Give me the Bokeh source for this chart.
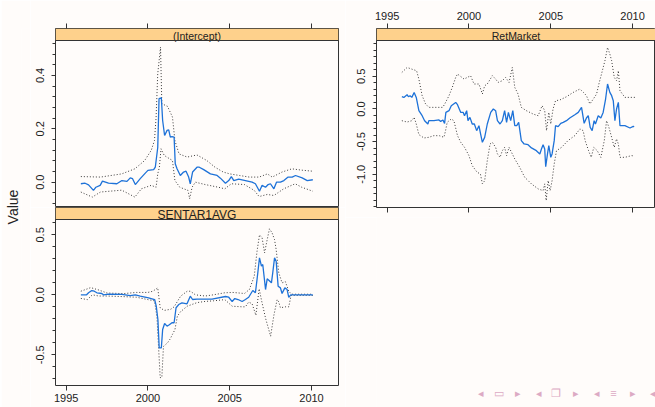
from bokeh.plotting import figure
from bokeh.models import Range1d, LinearAxis, FixedTicker, BoxAnnotation, Label, Span, Spacer
from bokeh.layouts import row, column
from bokeh.embed import file_html
from bokeh.resources import INLINE

BG = "#fffcfa"
STRIP = "#fed18c"
BLUE = "#1e72d8"
FRAME = "#333333"
DOTS = "#3a3a3a"
FONT = "Liberation Sans"

# ---------------- data ----------------
x_ticks = [1995, 2000, 2005, 2010]
x_tick_labels = ["1995", "2000", "2005", "2010"]

strip_labels = ["(Intercept)", "SENTAR1AVG", "RetMarket"]
y_label = "Value"

# (Intercept)
int_fit_x = [1995.9, 1996.16, 1996.37, 1996.67, 1996.82, 1997.08, 1997.22, 1997.59, 1998.1, 1998.41,
             1998.72, 1998.92, 1999.06, 1999.23, 1999.53, 1999.84, 2000.0, 2000.35, 2000.45, 2000.6,
             2000.68, 2000.82, 2000.9, 2001.02, 2001.17, 2001.27, 2001.37, 2001.47, 2001.6, 2001.67,
             2001.78, 2001.98, 2002.18, 2002.33, 2002.49, 2002.59, 2002.73, 2003.0, 2003.14, 2003.41,
             2003.82, 2004.23, 2004.43, 2004.74, 2004.94, 2005.1, 2005.25, 2005.55, 2005.96, 2006.37,
             2006.57, 2006.82, 2006.98, 2007.19, 2007.35, 2007.49, 2007.7, 2007.86, 2008.1, 2008.31,
             2008.57, 2008.82, 2009.02, 2009.43, 2009.74, 2010.08]
int_fit_y = [-0.006, -0.004, -0.01, -0.031, -0.019, -0.012, 0.004, -0.004, -0.006, 0.006,
             0.003, 0.016, 0.013, -0.009, 0.013, 0.034, 0.044, 0.047, 0.056, 0.13,
             0.313, 0.316, 0.231, 0.175, 0.194, 0.196, 0.169, 0.171, 0.169, 0.069,
             0.05, 0.025, 0.038, 0.041, 0.019, -0.006, 0.038, 0.056, 0.056, 0.047,
             0.031, 0.025, 0.015, -0.004, 0.006, 0.021, 0.006, 0.011, 0.006, 0.0,
             -0.006, -0.034, -0.012, -0.019, -0.009, -0.006, -0.025, 0.0, 0.0, 0.006,
             0.019, 0.019, 0.025, 0.016, 0.006, 0.009]
int_up_x = [1995.9, 1997.1, 1998.4, 1999.2, 1999.8, 2000.2, 2000.4, 2000.5, 2000.6, 2000.77,
            2000.85, 2001.2, 2001.5, 2001.65, 2001.9, 2002.4, 2003.0, 2003.6, 2004.1, 2004.6,
            2005.0, 2005.6, 2006.2, 2006.8, 2007.3, 2007.6, 2008.2, 2008.8, 2009.4, 2010.08]
int_up_y = [0.021, 0.019, 0.031, 0.05, 0.081, 0.119, 0.156, 0.244, 0.406, 0.506,
            0.294, 0.284, 0.244, 0.156, 0.106, 0.094, 0.102, 0.081, 0.056, 0.038,
            0.031, 0.025, 0.019, 0.019, 0.031, 0.019, 0.038, 0.05, 0.045, 0.041]
int_lo_x = [1995.9, 1996.6, 1997.1, 1998.4, 1999.2, 1999.6, 2000.2, 2000.5, 2000.6, 2000.7,
            2000.8, 2001.0, 2001.5, 2001.65, 2001.95, 2002.45, 2002.55, 2002.7, 2002.9, 2003.5,
            2004.3, 2004.7, 2005.1, 2005.9, 2006.5, 2006.8, 2007.3, 2007.7, 2008.3, 2009.0,
            2009.4, 2010.08]
int_lo_y = [-0.037, -0.056, -0.037, -0.03, -0.056, -0.025, -0.012, -0.019, 0.031, 0.056,
            0.125, 0.1, 0.081, 0.006, -0.019, -0.031, -0.062, -0.019, 0.0, -0.009,
            -0.019, -0.025, -0.006, -0.009, -0.031, -0.054, -0.046, -0.05, -0.025, -0.006,
            -0.019, -0.034]

# SENTAR1AVG
sen_fit_x = [1995.9, 1996.25, 1996.37, 1996.57, 1996.72, 1996.88, 1997.18, 1997.28, 1997.59, 1998.41,
             1998.92, 1999.23, 1999.53, 2000.04, 2000.41, 2000.51, 2000.61, 2000.69, 2000.82, 2000.9,
             2001.02, 2001.17, 2001.31, 2001.47, 2001.6, 2001.72, 2001.88, 2002.08, 2002.39, 2002.59,
             2002.73, 2003.0, 2003.92, 2004.74, 2004.94, 2005.15, 2005.31, 2005.51, 2005.76, 2005.96,
             2006.16, 2006.41, 2006.57, 2006.67, 2006.82, 2006.94, 2007.02, 2007.19, 2007.29, 2007.39,
             2007.55, 2007.63, 2007.74, 2007.84, 2007.96, 2008.1, 2008.2, 2008.37, 2008.51, 2008.61,
             2008.73, 2010.08]
sen_fit_y = [0.0, 0.0, 0.017, 0.036, 0.03, 0.017, 0.011, 0.0, 0.005, 0.003,
             -0.006, 0.0, -0.011, -0.025, -0.039, -0.095, -0.206, -0.442, -0.442, -0.289,
             -0.239, -0.261, -0.25, -0.233, -0.233, -0.108, -0.081, -0.067, -0.075, -0.011,
             -0.039, -0.036, -0.036, -0.014, -0.02, -0.056, -0.031, -0.039, -0.056, -0.039,
             -0.02, 0.036, 0.017, 0.128, 0.308, 0.239, 0.253, 0.044, 0.133, 0.122,
             0.1, 0.183, 0.308, 0.28, 0.072, 0.058, 0.011, 0.058, 0.044, -0.022,
             0.0, 0.0]
sen_up_x = [1995.9, 1996.5, 1997.0, 1997.5, 1998.5, 1999.3, 2000.0, 2000.3, 2000.6, 2000.75,
            2001.0, 2001.4, 2001.6, 2001.75, 2002.0, 2002.4, 2002.6, 2002.9, 2003.5, 2004.0,
            2004.7, 2005.2, 2005.9, 2006.2, 2006.5, 2006.67, 2006.82, 2006.98, 2007.13, 2007.29,
            2007.43, 2007.59, 2007.74, 2007.84, 2008.0, 2008.2, 2008.4, 2008.61, 2008.78, 2010.08]
sen_up_y = [0.03, 0.06, 0.04, 0.015, 0.01, 0.02, 0.02, 0.03, 0.058, -0.108,
            -0.13, -0.12, -0.1, -0.067, -0.011, 0.03, 0.03, 0.0, -0.01, 0.0,
            0.017, 0.02, 0.011, 0.044, 0.155, 0.363, 0.5, 0.475, 0.35, 0.46,
            0.55, 0.517, 0.46, 0.377, 0.183, 0.1, 0.11, 0.03, 0.005, 0.005]
sen_lo_x = [1995.9, 1996.3, 1996.6, 1997.0, 1997.5, 1998.5, 1999.3, 2000.0, 2000.4, 2000.55,
            2000.75, 2000.85, 2000.95, 2001.2, 2001.35, 2001.5, 2001.65, 2001.8, 2002.0, 2002.4,
            2003.0, 2003.5, 2004.0, 2004.7, 2005.15, 2005.76, 2005.96, 2006.16, 2006.37, 2006.6,
            2006.8, 2006.95, 2007.2, 2007.5, 2007.7, 2007.9, 2008.0, 2008.1, 2008.4, 2008.61,
            2008.75, 2010.08]
sen_lo_y = [-0.03, -0.04, 0.0, -0.01, -0.01, -0.015, -0.02, -0.04, -0.05, -0.18,
            -0.69, -0.69, -0.43, -0.4, -0.37, -0.33, -0.29, -0.178, -0.14, -0.095,
            -0.065, -0.055, -0.05, -0.04, -0.095, -0.1, -0.1, -0.06, -0.075, -0.17,
            0.05, -0.05, -0.2, -0.345, -0.17, -0.039, -0.06, -0.108, -0.1, -0.1,
            -0.005, -0.005]

# RetMarket
ret_fit_x = [1995.9, 1996.02, 1996.22, 1996.3, 1996.4, 1996.51, 1996.65, 1996.78, 1996.94, 1997.14,
             1997.29, 1997.49, 1997.55, 1997.86, 1998.17, 1998.27, 1998.41, 1998.51, 1998.59, 1998.78,
             1998.92, 1999.19, 1999.3, 1999.5, 1999.65, 1999.73, 1999.86, 1999.94, 2000.06, 2000.2,
             2000.33, 2000.47, 2000.61, 2000.71, 2000.82, 2000.96, 2001.12, 2001.33, 2001.49, 2001.63,
             2001.74, 2001.9, 2002.04, 2002.18, 2002.3, 2002.41, 2002.55, 2002.68, 2002.8, 2002.92,
             2003.04, 2003.2, 2003.37, 2003.61, 2003.82, 2004.12, 2004.33, 2004.43, 2004.53, 2004.63,
             2004.69, 2004.8, 2004.88, 2005.0, 2005.08, 2005.21, 2005.29, 2005.45, 2005.61, 2005.76,
             2005.96, 2006.16, 2006.47, 2006.68, 2006.88, 2007.04, 2007.18, 2007.29, 2007.41, 2007.53,
             2007.65, 2007.73, 2007.9, 2008.06, 2008.2, 2008.35, 2008.47, 2008.61, 2008.72, 2008.82,
             2008.92, 2009.02, 2009.13, 2009.23, 2009.53, 2009.84, 2010.04, 2010.1]
ret_fit_y = [0.188, 0.178, 0.219, 0.188, 0.204, 0.178, 0.254, 0.178, -0.026, -0.103,
             -0.179, -0.23, -0.179, -0.179, -0.168, -0.19, -0.168, -0.22, -0.052, -0.026,
             0.051, 0.101, 0.066, -0.052, -0.052, -0.103, -0.026, -0.179, -0.128, -0.23,
             -0.23, -0.332, -0.256, -0.383, -0.511, -0.435, -0.23, -0.052, 0.0, -0.026,
             -0.179, -0.23, -0.179, -0.026, -0.204, -0.052, -0.179, -0.026, -0.256, -0.256,
             -0.204, -0.485, -0.536, -0.547, -0.597, -0.639, -0.689, -0.613, -0.547, -0.613,
             -0.884, -0.689, -0.562, -0.741, -0.689, -0.485, -0.256, -0.271, -0.22, -0.204,
             -0.179, -0.138, -0.087, -0.052, 0.025, -0.22, -0.138, -0.103, -0.281, -0.332,
             -0.179, -0.23, -0.103, -0.138, -0.052, 0.153, 0.383, 0.254, 0.204, 0.127,
             -0.179, 0.0, 0.101, -0.256, -0.256, -0.291, -0.266, -0.27]
ret_up_x = [1995.9, 1996.22, 1996.5, 1996.8, 1996.94, 1997.14, 1997.35, 1997.55, 1998.4, 1998.57,
            1998.78, 1998.98, 1999.19, 1999.3, 1999.7, 1999.9, 2000.1, 2000.31, 2000.61, 2000.82,
            2000.96, 2001.12, 2001.43, 2001.63, 2001.78, 2002.04, 2002.24, 2002.45, 2002.65, 2002.8,
            2003.0, 2003.2, 2003.51, 2003.92, 2004.23, 2004.47, 2004.63, 2004.74, 2004.88, 2005.0,
            2005.14, 2005.29, 2005.55, 2005.96, 2006.37, 2006.78, 2007.0, 2007.18, 2007.39, 2007.6,
            2007.8, 2007.94, 2008.1, 2008.31, 2008.47, 2008.61, 2008.72, 2008.88, 2009.02, 2009.13,
            2009.23, 2009.53, 2010.14]
ret_up_y = [0.56, 0.637, 0.612, 0.586, 0.459, 0.204, 0.077, 0.025, 0.025, 0.1,
            0.204, 0.331, 0.484, 0.536, 0.459, 0.484, 0.51, 0.383, 0.383, 0.23,
            0.357, 0.383, 0.51, 0.459, 0.408, 0.434, 0.484, 0.408, 0.637, 0.331,
            0.23, 0.025, -0.026, -0.077, -0.103, 0.051, -0.026, -0.332, -0.052, -0.23,
            0.0, 0.127, 0.138, 0.188, 0.254, 0.306, 0.254, 0.204, 0.077, 0.153,
            0.23, 0.383, 0.536, 0.74, 0.943, 0.842, 0.74, 0.484, 0.434, 0.587,
            0.28, 0.178, 0.178]
ret_lo_x = [1995.9, 1996.22, 1996.5, 1996.65, 1996.78, 1996.94, 1997.25, 1997.55, 1997.86, 1998.2,
            1998.47, 1998.57, 1998.67, 1998.92, 1999.08, 1999.3, 1999.5, 1999.73, 2000.0, 2000.2,
            2000.5, 2000.7, 2000.82, 2000.96, 2001.12, 2001.29, 2001.43, 2001.63, 2001.74, 2001.9,
            2002.04, 2002.18, 2002.3, 2002.45, 2002.65, 2002.8, 2003.1, 2003.41, 2003.82, 2004.23,
            2004.53, 2004.63, 2004.72, 2004.84, 2004.96, 2005.08, 2005.21, 2005.35, 2005.66, 2006.05,
            2006.47, 2006.78, 2006.98, 2007.1, 2007.31, 2007.47, 2007.63, 2007.84, 2008.06, 2008.27,
            2008.41, 2008.55, 2008.72, 2008.88, 2009.02, 2009.13, 2009.23, 2009.53, 2009.94, 2010.1]
ret_lo_y = [-0.179, -0.2, -0.18, -0.128, -0.23, -0.393, -0.444, -0.434, -0.408, -0.41,
            -0.434, -0.332, -0.204, -0.153, -0.18, -0.408, -0.511, -0.588, -0.715, -0.868,
            -0.97, -0.995, -1.148, -1.1, -0.792, -0.536, -0.511, -0.588, -0.689, -0.741,
            -0.639, -0.588, -0.715, -0.588, -0.689, -0.766, -0.894, -1.047, -1.148, -1.225,
            -1.251, -1.148, -1.404, -1.098, -1.251, -1.098, -0.842, -0.639, -0.588, -0.485,
            -0.408, -0.306, -0.332, -0.485, -0.639, -0.741, -0.588, -0.639, -0.741, -0.485,
            -0.179, -0.28, -0.434, -0.588, -0.459, -0.536, -0.741, -0.741, -0.715, -0.72]

# y-axis ticks
int_y_ticks = [0.0, 0.2, 0.4]
int_y_labels = ["0.0", "0.2", "0.4"]
int_y_minor = [-0.08, -0.04, 0.0, 0.04, 0.08, 0.12, 0.16, 0.2, 0.24, 0.28, 0.32, 0.36, 0.4, 0.44, 0.48, 0.52]
sen_y_ticks = [-0.5, 0.0, 0.5]
sen_y_labels = ["-0.5", "0.0", "0.5"]
sen_y_minor = [-0.7, -0.6, -0.5, -0.4, -0.3, -0.2, -0.1, 0.0, 0.1, 0.2, 0.3, 0.4, 0.5, 0.6]
ret_y_ticks = [-1.0, -0.5, 0.0, 0.5]
ret_y_labels = ["-1.0", "-0.5", "0.0", "0.5"]
ret_y_minor = [-1.5, -1.4, -1.3, -1.2, -1.1, -1.0, -0.9, -0.8, -0.7, -0.6, -0.5, -0.4, -0.3, -0.2,
               -0.1, 0.0, 0.1, 0.2, 0.3, 0.4, 0.5, 0.6, 0.7, 0.8, 0.9, 1.0]

nav_symbols = ["\u25c2", "\u25ad", "\u25b8", "\u25c2", "\u2750", "\u25b8", "\u25c2", "\u2261", "\u25b8", "\u25c2"]

# ---------------- layout constants (pixels) ----------------
STRIP_PX = 12
X_LEFT = (1994.35, 2011.65)
X_RIGHT = (1994.35, 2011.4)


def axis_style(ax):
    ax.axis_line_color = None
    ax.major_tick_in = 0
    ax.minor_tick_in = 0
    ax.major_tick_line_color = FRAME
    ax.minor_tick_line_color = FRAME
    ax.major_label_text_font = FONT
    ax.major_label_text_color = "#222222"
    return ax


def x_axis(show_labels, standoff):
    if show_labels:
        ax = LinearAxis(ticker=FixedTicker(ticks=x_ticks, minor_ticks=[]),
                        major_label_overrides=dict(zip(x_ticks, x_tick_labels)),
                        major_tick_out=5, minor_tick_out=0, major_label_standoff=standoff,
                        major_label_text_font_size="11px")
    else:
        ax = LinearAxis(ticker=FixedTicker(ticks=x_ticks, minor_ticks=[]),
                        major_label_overrides=dict(zip(x_ticks, ["" for _ in x_ticks])),
                        major_tick_out=5, minor_tick_out=0, major_label_standoff=0,
                        major_label_text_font_size="0px")
    return axis_style(ax)


def y_axis(ticks, labels, minor):
    ax = LinearAxis(ticker=FixedTicker(ticks=ticks, minor_ticks=minor),
                    major_label_overrides=dict(zip(ticks, labels)),
                    major_tick_out=4, minor_tick_out=3,
                    major_label_orientation="vertical", major_label_standoff=7,
                    major_label_text_font_size="11px")
    return axis_style(ax)


def make_panel(width, height, mbl, mbr, mbt, mbb, xr, ylims, frame_h, strip_text, strip_size):
    lo, hi = ylims
    per_px = (hi - lo) / (frame_h - STRIP_PX)
    top = hi + STRIP_PX * per_px
    p = figure(width=width, height=height, x_range=Range1d(*xr), y_range=Range1d(lo, top),
               toolbar_location=None, output_backend="svg", x_axis_location=None,
               y_axis_location=None, title=None,
               min_border_left=mbl, min_border_right=mbr, min_border_top=mbt, min_border_bottom=mbb,
               background_fill_color=BG, border_fill_color=BG,
               outline_line_color=FRAME, outline_line_width=1)
    p.grid.visible = False
    p.add_layout(BoxAnnotation(left=xr[0], right=xr[1], bottom=hi, top=top,
                               fill_color=STRIP, fill_alpha=1.0, line_color=FRAME, line_width=1,
                               level="underlay"))
    p.add_layout(Label(x=(xr[0] + xr[1]) / 2, y=(hi + top) / 2 - 1.5 * per_px, text=strip_text,
                       text_align="center", text_baseline="middle", text_font=FONT,
                       text_font_size=strip_size, text_color="#222222"))
    p.add_layout(Span(location=hi, dimension="width", line_color=FRAME, line_width=1))
    return p


def draw_series(p, fx, fy, ux, uy, lx, ly):
    p.line(ux, uy, line_color=DOTS, line_width=1, line_dash="1 2")
    p.line(lx, ly, line_color=DOTS, line_width=1, line_dash="1 2")
    p.line(fx, fy, line_color=BLUE, line_width=1.3)


# ---------------- "Value" label column ----------------
vf = figure(width=29, height=407, x_range=Range1d(0, 1), y_range=Range1d(0, 1),
            toolbar_location=None, output_backend="svg", x_axis_location=None, y_axis_location=None,
            title=y_label, title_location="left",
            min_border_left=0, min_border_right=0, min_border_top=28, min_border_bottom=22,
            outline_line_color=None, background_fill_color=BG, border_fill_color=BG)
vf.grid.visible = False
vf.title.align = "center"
vf.title.text_font = FONT
vf.title.text_font_size = "14px"
vf.title.text_font_style = "normal"
vf.title.text_color = "#222222"
vf.title.standoff = 2
vf.title.offset = 1.5

# ---------------- top-left: (Intercept) ----------------
tl = make_panel(315, 207, 25, 7, 28, 0, X_LEFT, (-0.095, 0.531), 179, strip_labels[0], "10.5px")
tl.add_layout(y_axis(int_y_ticks, int_y_labels, int_y_minor), "left")
tl.add_layout(x_axis(False, 0), "above")
draw_series(tl, int_fit_x, int_fit_y, int_up_x, int_up_y, int_lo_x, int_lo_y)

# ---------------- bottom-left: SENTAR1AVG ----------------
bl = make_panel(315, 200, 25, 7, 0, 22, X_LEFT, (-0.756, 0.628), 178, strip_labels[1], "12px")
bl.add_layout(y_axis(sen_y_ticks, sen_y_labels, sen_y_minor), "left")
bl.add_layout(x_axis(True, 3), "below")
draw_series(bl, sen_fit_x, sen_fit_y, sen_up_x, sen_up_y, sen_lo_x, sen_lo_y)

# ---------------- right: RetMarket ----------------
rt = make_panel(310, 217, 31, 0, 28, 10, X_RIGHT, (-1.51, 1.05), 179, strip_labels[2], "10.5px")
rt.add_layout(y_axis(ret_y_ticks, ret_y_labels, ret_y_minor), "left")
rt.add_layout(x_axis(True, 4), "above")
rt.add_layout(x_axis(False, 0), "below")
draw_series(rt, ret_fit_x, ret_fit_y, ret_up_x, ret_up_y, ret_lo_x, ret_lo_y)

# ---------------- beamer navigation symbols (decoration) ----------------
# the column aligns this frame with the RetMarket frame (page x 376..655)
nav = figure(width=310, height=190, x_range=Range1d(376, 655), y_range=Range1d(407, 217),
             toolbar_location=None, output_backend="svg", x_axis_location=None, y_axis_location=None,
             title=None, min_border=0, outline_line_color=None,
             background_fill_color=BG, border_fill_color=BG)
nav.grid.visible = False
nav_px = [480, 498, 517, 538, 555, 575, 596, 613, 632, 652]
nav.text(x=nav_px, y=[392] * len(nav_px), text=nav_symbols, text_align="center",
         text_baseline="middle", text_font_size="11px", text_color="#dcaac4")

layout = row(Spacer(width=1, height=407), vf, column(tl, bl), column(rt, nav))

with open("out.html", "w") as f:
    f.write(file_html(layout, INLINE))
